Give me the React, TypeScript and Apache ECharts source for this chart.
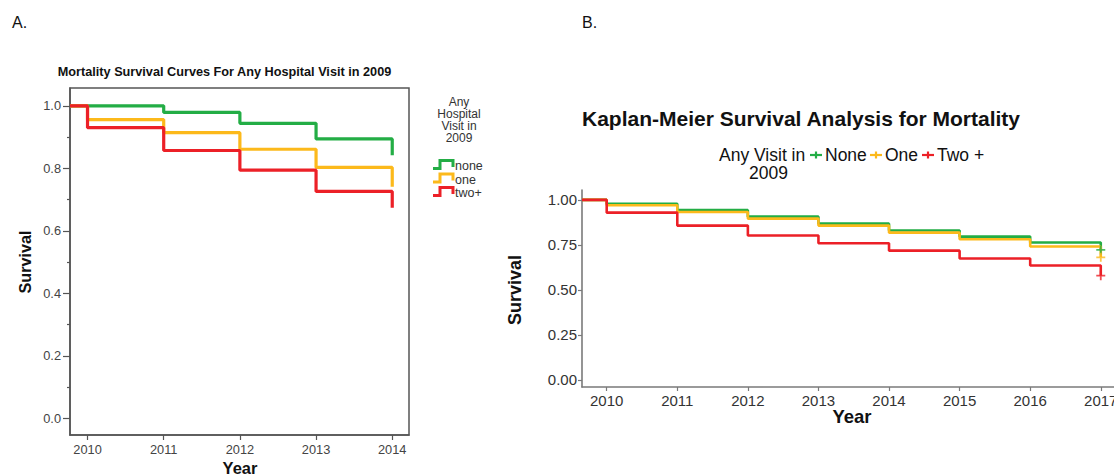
import React, { useEffect, useRef } from "react";
import * as echarts from "echarts";

// ---------- Data ----------
// Panel A: SPSS Kaplan-Meier (any hospital visit in 2009)
const yearsA = [2010, 2011, 2012, 2013, 2014];
const noneA = [1.0, 0.979, 0.944, 0.894, 0.842];
const oneA = [0.956, 0.914, 0.861, 0.803, 0.741];
const twoA = [0.93, 0.857, 0.794, 0.726, 0.674];
const yTicksA = [0, 0.2, 0.4, 0.6, 0.8, 1.0];
const yMinorA = [0.1, 0.3, 0.5, 0.7, 0.9];
const startA = 2009.77;

// Panel B: ggplot Kaplan-Meier (any visit in 2009)
const yearsB = [2010, 2011, 2012, 2013, 2014, 2015, 2016, 2017];
const noneB = [0.978, 0.943, 0.907, 0.868, 0.83, 0.796, 0.763, 0.722];
const oneB = [0.97, 0.933, 0.896, 0.857, 0.818, 0.781, 0.741, 0.681];
const twoB = [0.929, 0.857, 0.802, 0.759, 0.718, 0.674, 0.635, 0.579];
const yTicksB = [0, 0.25, 0.5, 0.75, 1.0];
const startB = 2009.65;

const GREEN = "#23ad45";
const ORANGE = "#fcb91b";
const RED = "#ec2027";
const FONT = "'Liberation Sans', Arial, sans-serif";

const stepData = (start: number, xs: number[], ys: number[]) => [
  [start, 1.0],
  ...xs.map((x, i) => [x, ys[i]]),
];

const txt = (
  text: string,
  x: number,
  y: number,
  size: number,
  opts: any = {}
) => ({
  type: "text",
  x,
  y,
  rotation: opts.rotation || 0,
  z: 100,
  style: {
    text,
    fontSize: size,
    fontFamily: FONT,
    fontWeight: opts.bold ? "bold" : "normal",
    fill: opts.color || "#111",
    align: opts.align || "center",
    verticalAlign: "middle",
    textAlign: opts.align || "center",
    textVerticalAlign: "middle",
  },
});

export default function App() {
  const ref = useRef<HTMLDivElement>(null);

  useEffect(() => {
    if (!ref.current) return;
    const chart = echarts.init(ref.current, null, { renderer: "svg" });

    const plusPath =
      "path://M4,0 L6,0 L6,4 L10,4 L10,6 L6,6 L6,10 L4,10 L4,6 L0,6 L0,4 L4,4 Z";

    const legendAIcon = (cy: number, color: string) => ({
      type: "polyline",
      z: 100,
      shape: {
        points: [
          [433, cy + 2.5],
          [440, cy + 2.5],
          [440, cy - 5.5],
          [453, cy - 5.5],
          [453, cy + 1],
        ],
      },
      style: { stroke: color, lineWidth: 3, fill: null },
    });

    const legendBIcon = (cx: number, cy: number, color: string) => ({
      type: "group",
      z: 100,
      children: [
        {
          type: "line",
          shape: { x1: cx - 6, y1: cy, x2: cx + 6, y2: cy },
          style: { stroke: color, lineWidth: 2.2 },
        },
        {
          type: "line",
          shape: { x1: cx, y1: cy - 3.5, x2: cx, y2: cy + 3.5 },
          style: { stroke: color, lineWidth: 2.2 },
        },
      ],
    });

    const option: any = {
      animation: false,
      backgroundColor: "#ffffff",
      grid: [
        {
          left: 70,
          top: 88,
          width: 339,
          height: 347,
          show: true,
          borderColor: "#555",
          borderWidth: 1.5,
          backgroundColor: "transparent",
          containLabel: false,
          outerBoundsMode: "none",
        },
        {
          left: 582,
          top: 190,
          width: 547,
          height: 197,
          containLabel: false,
          outerBoundsMode: "none",
        },
      ],
      xAxis: [
        {
          gridIndex: 0,
          type: "value",
          min: startA,
          max: 2014.22,
          splitLine: { show: false },
          axisLine: { show: true, onZero: false, lineStyle: { color: "#555", width: 1.5 } },
          axisTick: { show: true, customValues: yearsA, length: 5, lineStyle: { color: "#555", width: 1.2 } },
          axisLabel: {
            customValues: yearsA,
            margin: 8,
            fontSize: 12.8,
            color: "#444",
            fontFamily: FONT,
            formatter: (v: number) => String(Math.round(v)),
          },
        },
        {
          gridIndex: 1,
          type: "value",
          min: startB,
          max: 2017.4,
          splitLine: { show: false },
          axisLine: { show: true, onZero: false, lineStyle: { color: "#7a7a7a", width: 1.6 } },
          axisTick: { show: true, customValues: yearsB, length: 4, lineStyle: { color: "#7a7a7a", width: 1.2 } },
          axisLabel: {
            customValues: yearsB,
            margin: 6,
            fontSize: 15,
            color: "#333",
            fontFamily: FONT,
            formatter: (v: number) => String(Math.round(v)),
          },
        },
      ],
      yAxis: [
        {
          gridIndex: 0,
          type: "value",
          position: "left",
          min: -0.053,
          max: 1.057,
          splitLine: { show: false },
          axisLine: { show: true, onZero: false, lineStyle: { color: "#555", width: 1.5 } },
          axisTick: { show: true, customValues: yTicksA, length: 7, lineStyle: { color: "#555", width: 1.2 } },
          axisLabel: {
            customValues: yTicksA,
            margin: 9,
            fontSize: 12.8,
            color: "#444",
            fontFamily: FONT,
            formatter: (v: number) => v.toFixed(1),
          },
        },
        {
          gridIndex: 1,
          type: "value",
          position: "left",
          min: -0.04,
          max: 1.055,
          splitLine: { show: false },
          axisLine: { show: true, onZero: false, lineStyle: { color: "#7a7a7a", width: 1.6 } },
          axisTick: { show: true, customValues: yTicksB, length: 4, lineStyle: { color: "#7a7a7a", width: 1.2 } },
          axisLabel: {
            customValues: yTicksB,
            margin: 5,
            fontSize: 15,
            color: "#333",
            fontFamily: FONT,
            formatter: (v: number) => v.toFixed(2),
          },
        },
        {
          gridIndex: 0,
          type: "value",
          position: "left",
          offset: 0,
          min: -0.053,
          max: 1.057,
          splitLine: { show: false },
          axisLine: { show: false, onZero: false },
          axisTick: { show: true, customValues: yMinorA, length: 3, lineStyle: { color: "#555", width: 1.2 } },
          axisLabel: { show: false },
        },
      ],
      series: [
        ...[
          [noneA, GREEN],
          [oneA, ORANGE],
          [twoA, RED],
        ].map(([vals, color]: any) => ({
          type: "line",
          xAxisIndex: 0,
          yAxisIndex: 0,
          step: "end",
          symbol: "none",
          lineStyle: { color, width: 3.2 },
          itemStyle: { color },
          data: stepData(startA, yearsA, vals),
        })),
        ...[
          [noneB, GREEN],
          [oneB, ORANGE],
          [twoB, RED],
        ].map(([vals, color]: any) => ({
          type: "line",
          xAxisIndex: 1,
          yAxisIndex: 1,
          step: "end",
          symbol: "none",
          lineStyle: { color, width: 2.6 },
          itemStyle: { color },
          data: stepData(startB, yearsB, vals),
        })),
        ...[
          [noneB, GREEN],
          [oneB, ORANGE],
          [twoB, RED],
        ].map(([vals, color]: any) => ({
          type: "scatter",
          xAxisIndex: 1,
          yAxisIndex: 1,
          symbol: plusPath,
          symbolSize: 9,
          itemStyle: { color },
          z: 5,
          data: [[yearsB[yearsB.length - 1], vals[vals.length - 1]]],
        })),
      ],
      graphic: [
        txt("A.", 12, 22, 16, { align: "left" }),
        txt("B.", 582, 22, 16, { align: "left" }),
        txt("Mortality Survival Curves For Any Hospital Visit in 2009", 224.5, 72, 12.7, { bold: true }),
        txt("Survival", 25, 262, 16.2, { bold: true, rotation: Math.PI / 2 }),
        txt("Year", 240, 468, 16.5, { bold: true }),
        txt("Any", 459, 102, 12, { color: "#333" }),
        txt("Hospital", 459, 114, 12, { color: "#333" }),
        txt("Visit in", 459, 126, 12, { color: "#333" }),
        txt("2009", 459, 138, 12, { color: "#333" }),
        legendAIcon(166, GREEN),
        legendAIcon(179.5, ORANGE),
        legendAIcon(193, RED),
        txt("none", 455, 166, 12.5, { align: "left", color: "#333" }),
        txt("one", 455, 179.5, 12.5, { align: "left", color: "#333" }),
        txt("two+", 455, 193, 12.5, { align: "left", color: "#333" }),
        txt("Kaplan-Meier Survival Analysis for Mortality", 801, 118, 21, { bold: true }),
        txt("Any Visit in", 719, 155, 17.5, { align: "left" }),
        txt("2009", 749, 173, 17.5, { align: "left" }),
        legendBIcon(816, 155, GREEN),
        txt("None", 825, 155, 17.5, { align: "left" }),
        legendBIcon(876, 155, ORANGE),
        txt("One", 885, 155, 17.5, { align: "left" }),
        legendBIcon(928, 155, RED),
        txt("Two +", 937, 155, 17.5, { align: "left" }),
        txt("Survival", 515, 290, 18, { bold: true, rotation: Math.PI / 2 }),
        txt("Year", 852, 416, 18.5, { bold: true }),
      ],
    };

    chart.setOption(option);
    return () => chart.dispose();
  }, []);

  return (
    <div
      ref={ref}
      style={{ position: "fixed", left: 0, top: 0, width: 1114, height: 476, background: "#fff" }}
    />
  );
}
